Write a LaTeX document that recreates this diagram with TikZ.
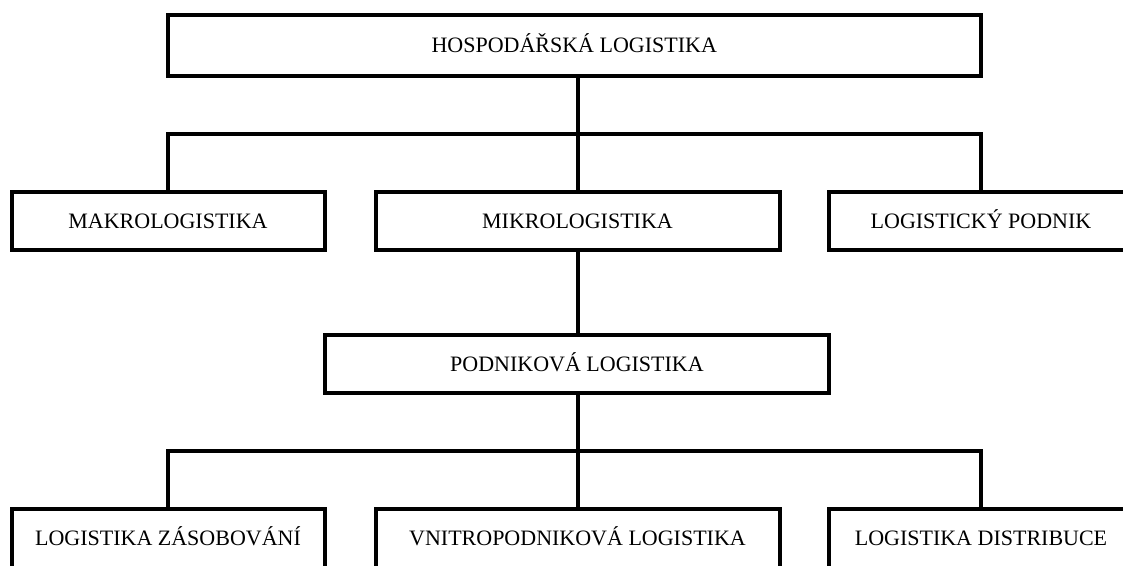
\documentclass[tikz,border=0pt]{standalone}
\usepackage{fontspec}
\setmainfont{Liberation Serif}
\usepackage{tikz}

\begin{document}
\begin{tikzpicture}[x=1pt,y=-1pt,
    box/.style={draw, rectangle, line width=4pt, minimum height=58pt,
      inner sep=0pt, text height=14.5pt, text depth=0pt,
      font=\fontsize{22}{26}\selectfont},
    lowbox/.style={box, minimum height=66pt, text depth=8pt},
    link/.style={draw, line width=4pt}]

        \useasboundingbox (0,0) rectangle (1123,565);

        \begin{scope}[every node/.style={box}]
          \node (1) at (574.25,45.5) [minimum width=813.5pt, minimum height=61pt] {HOSPODÁŘSKÁ LOGISTIKA};
          \node (2) at (168,221)   [minimum width=313pt] {MAKROLOGISTIKA};
          \node (3) at (577.5,221) [minimum width=404pt] {MIKROLOGISTIKA};
          \node (4) at (981,221)   [minimum width=304pt] {LOGISTICKÝ PODNIK};
          \node (5) at (577,364)   [minimum width=504pt] {PODNIKOVÁ LOGISTIKA};
        \end{scope}

        \begin{scope}[every node/.style={lowbox}]
          \node (6) at (168,542)   [minimum width=313pt] {LOGISTIKA ZÁSOBOVÁNÍ};
          \node (7) at (577.5,542) [minimum width=404pt] {VNITROPODNIKOVÁ LOGISTIKA};
          \node (8) at (981,542)   [minimum width=304pt] {LOGISTIKA DISTRIBUCE};
        \end{scope}

        \coordinate (s1) at (578,134);
        \coordinate (s2) at (578,451);

        \begin{scope}[every path/.style={link}]
          \path (1.south -| s1) -- (s1);
          \path (s1) -| (2.north);
          \path (s1) -| (4.north);
          \path (s1) -- (3.north -| s1);
          \path (3.south -| s1) -- (5.north -| s1);
          \path (5.south -| s1) -- (s2);
          \path (s2) -| (6.north);
          \path (s2) -| (8.north);
          \path (s2) -- (7.north -| s2);
        \end{scope}

      \end{tikzpicture}
\end{document}
